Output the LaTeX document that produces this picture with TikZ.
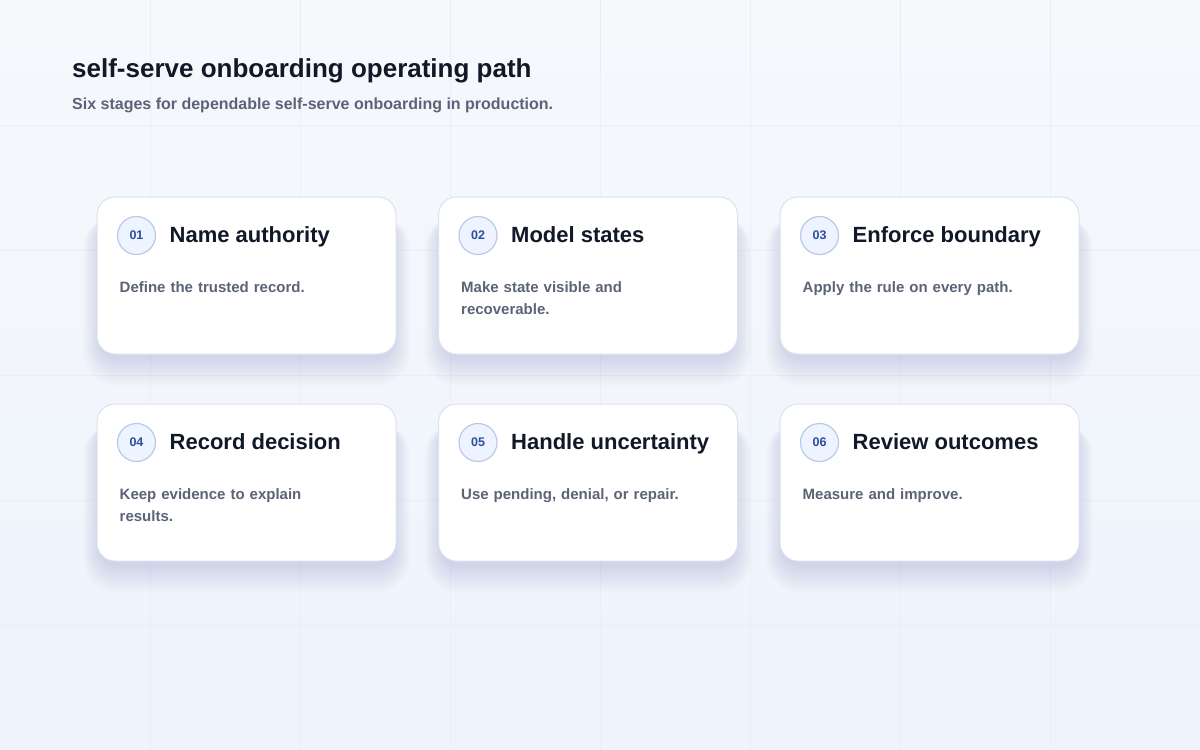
\documentclass[tikz,border=0pt]{standalone}
\usepackage{fontspec}
\setmainfont{Liberation Sans}
\usetikzlibrary{positioning}
\hyphenpenalty=10000
\exhyphenpenalty=10000
\definecolor{bgtop}{HTML}{F6F8FC}
\definecolor{bgbot}{HTML}{EEF3FC}
\definecolor{gridcol}{HTML}{EAEEF6}
\definecolor{ink}{HTML}{111827}
\definecolor{muted}{HTML}{5B6476}
\definecolor{cardline}{HTML}{DCE2EE}
\definecolor{badgefill}{HTML}{EEF4FF}
\definecolor{badgeline}{HTML}{B8CAE6}
\definecolor{badgetext}{HTML}{2D4E9C}
\definecolor{shadowcol}{HTML}{4A5478}
\tikzset{
	card/.style={draw=cardline, line width=1pt, fill=white, rounded corners=18pt, minimum width=299pt, minimum height=157pt, inner sep=0pt},
	badge/.style={circle, draw=badgeline, line width=1.2pt, fill=badgefill, minimum size=38pt, inner sep=0pt, text=badgetext, font=\fontsize{12.5}{14}\selectfont\bfseries},
	heading/.style={anchor=base west, inner sep=0pt, text=ink, font=\fontsize{22}{26}\selectfont\bfseries},
	blurb/.style={anchor=base west, inner sep=0pt, text=muted, text width=232pt, align=left, font=\fontsize{15}{22}\selectfont\bfseries},
	softshadow/.style={fill=shadowcol, fill opacity=0.007}
}
\begin{document}
\begin{tikzpicture}[x=1pt,y=-1pt]
		\useasboundingbox (0,0) rectangle (1200,750);
		\shade[top color=bgtop, bottom color=bgbot] (0,0) rectangle (1200,750);
		\foreach \gx in {150,300,...,1050}{
			\draw[gridcol, line width=0.8pt] (\gx,0) -- (\gx,750);
		}
		\foreach \gy in {125,250,...,625}{
			\draw[gridcol, line width=0.8pt] (0,\gy) -- (1200,\gy);
		}
		\node[anchor=base west, inner sep=0pt, text=ink, font=\fontsize{26}{30}\selectfont\bfseries] (title) at (72,77) {self-serve onboarding operating path};
		\node[anchor=base west, inner sep=0pt, text=muted, font=\fontsize{16}{20}\selectfont\bfseries] (subtitle) at (72,109) {Six stages for dependable self-serve onboarding in production.};
		\foreach \head/\txt [count=\n] in {Name authority/Define the trusted record., Model states/Make state visible and recoverable., Enforce boundary/Apply the rule on every path., Record decision/Keep evidence to explain results., Handle uncertainty/{Use pending, denial, or repair.}, Review outcomes/Measure and improve.}{
			\pgfmathsetmacro\cx{246.5+341.5*mod(\n-1,3)}
			\pgfmathsetmacro\cy{275.5+207*int((\n-1)/3)}
			% soft shadow under the card
			\foreach \k in {1,...,16}{
				\fill[softshadow, rounded corners=18pt+\k pt] (\cx-146-1.1*\k,\cy-60) rectangle (\cx+146+1.1*\k,\cy+82+1.8*\k);
			}
			\node[card] (card\n) at (\cx,\cy) {};
			\node[badge] (num\n) at ([xshift=40pt,yshift=-39pt]card\n.north west) {0\n};
			\node[heading] (head\n) at ([xshift=73pt,yshift=-46pt]card\n.north west) {\head};
			\node[blurb] (txt\n) at ([xshift=23pt,yshift=-96pt]card\n.north west) {\txt};
		}
	\end{tikzpicture}
\end{document}
